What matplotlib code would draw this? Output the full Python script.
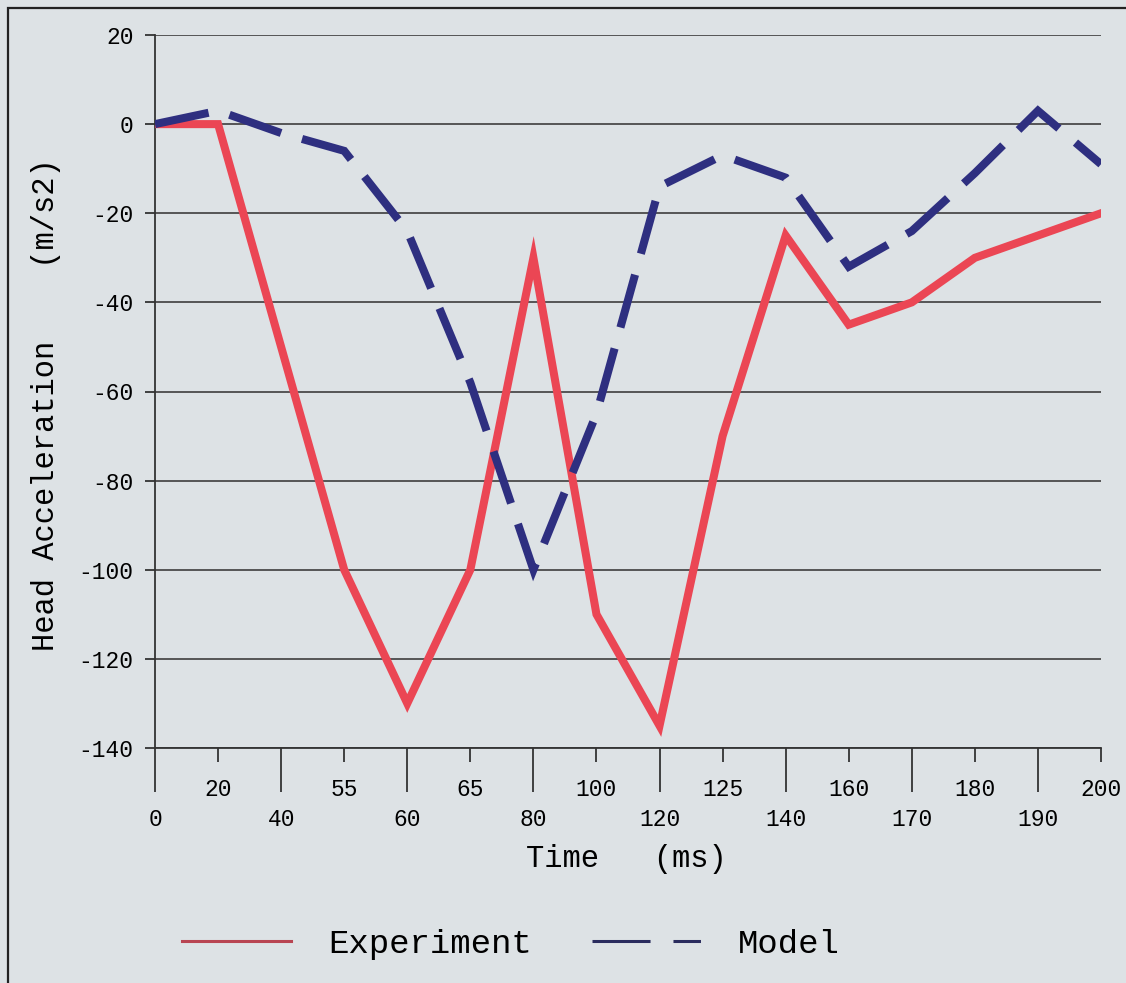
import matplotlib
matplotlib.use("Agg")
import matplotlib.pyplot as plt
from matplotlib.lines import Line2D
from matplotlib.patches import Rectangle
import numpy as np

plt.rcParams['font.family'] = ['Liberation Mono', 'DejaVu Sans Mono']
plt.rcParams['axes.unicode_minus'] = False

# time categories (ms) and head acceleration (m/s2)
times = ['0', '20', '40', '55', '60', '65', '80', '100', '120', '125',
         '140', '160', '170', '180', '190', '200']
experiment = [0, 0, -50, -100, -130, -100, -30, -110, -135, -70,
              -25, -45, -40, -30, -25, -20]
model = [0, 3, -2, -6, -24, -58, -100, -65, -14, -7,
         -12, -32, -24, -11, 3, -9]

bg = '#dde2e5'
red = '#eb4654'
navy = '#2e2f80'

fig = plt.figure(figsize=(11.26, 9.83), dpi=100, facecolor=bg)
ax = fig.add_axes([155 / 1126, 1 - 748 / 983, 946 / 1126, 713 / 983])
ax.set_facecolor(bg)

x = np.arange(len(times))
ax.plot(x, experiment, color=red, lw=5.8, solid_joinstyle='miter', zorder=3)
ax.plot(x, model, color=navy, lw=5.8, linestyle=(0, (6.8, 2.7)),
        dash_capstyle='butt', dash_joinstyle='miter', zorder=4)

ax.set_xlim(0, len(times) - 1)
ax.set_ylim(-140, 20)
ax.set_yticks(np.arange(-140, 21, 20))
ax.grid(axis='y', color='#4a4a4a', lw=1.3)
ax.set_axisbelow(True)

# staggered category labels: even ones on a long tick, odd ones on a short tick
ax.set_xticks(x[::2])
ax.set_xticklabels(times[::2])
ax.set_xticks(x[1::2], minor=True)
ax.set_xticklabels(times[1::2], minor=True)
ax.tick_params(axis='x', which='major', length=32, width=1.3, pad=11.5,
               labelsize=16.5, color='#333333')
ax.tick_params(axis='x', which='minor', length=10, width=1.3, pad=11.5,
               labelsize=16.5, color='#333333')
ax.tick_params(axis='y', length=7.5, width=1.3, pad=8, labelsize=16.5,
               color='#333333')

for side in ['top', 'right']:
    ax.spines[side].set_visible(False)
for side in ['left', 'bottom']:
    ax.spines[side].set_color('#333333')
    ax.spines[side].set_linewidth(1.3)

ax.set_xlabel('Time   (ms)', fontsize=22)
ax.xaxis.set_label_coords(0.498, -0.135)
ax.set_ylabel('Head Acceleration    (m/s2)', fontsize=22)
ax.yaxis.set_label_coords(-0.099, 0.481)

handles = [
    Line2D([], [], color='#b84552', lw=2.2),
    Line2D([], [], color='#2a2c5e', lw=2.2, linestyle=(0, (19, 7.5, 9, 40))),
]
fig.legend(handles, ['Experiment', 'Model'], loc='center',
           bbox_to_anchor=(0.454, 0.039), ncol=2, frameon=False,
           fontsize=24.5, handlelength=3.2, handletextpad=1.1,
           columnspacing=1.75)

# outer frame
fig.patches.append(Rectangle((8 / 1126, -0.05), 1.1, 1 - 8 / 983 + 0.05,
                             transform=fig.transFigure, fill=False,
                             edgecolor='#222222', lw=1.6))

fig.savefig('out.png', dpi=100, facecolor=bg)
